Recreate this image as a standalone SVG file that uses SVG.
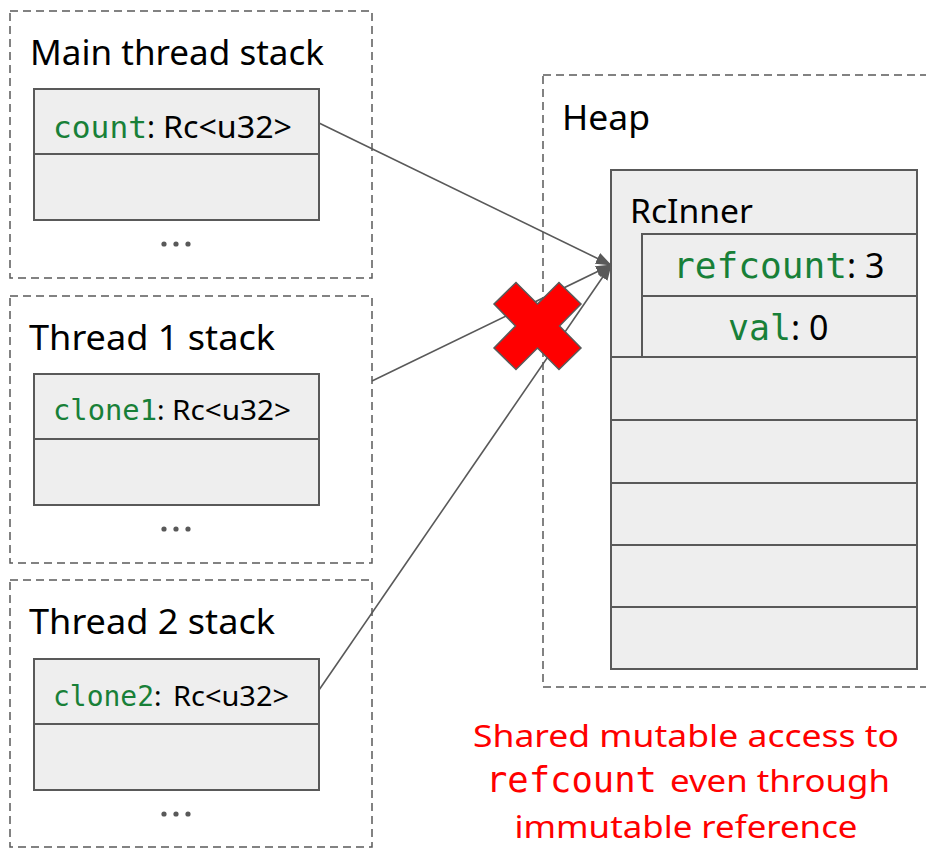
<svg xmlns="http://www.w3.org/2000/svg" width="926" height="848" viewBox="0 0 926 848">
  <style>
    .frame { fill: none; stroke: #595959; stroke-width: 1.5; stroke-dasharray: 8 5; }
    .cell { fill: #eeeeee; stroke: #595959; stroke-width: 2; }
    .title { font-family: "Noto Sans", "Open Sans", sans-serif; fill: #000000; }
    .sans { font-family: "Noto Sans", "Open Sans", sans-serif; fill: #000000; }
    .mono { font-family: "DejaVu Sans Mono", "Liberation Mono", monospace; fill: #188038; }
    .dot { fill: #595959; }
    .link { fill: none; stroke: #595959; stroke-width: 1.6; marker-end: url(#arrow); }
    .warn { font-family: "Noto Sans", "Open Sans", sans-serif; fill: #ff0000; font-size: 31px; }
    .warn-mono { font-family: "DejaVu Sans Mono", "Liberation Mono", monospace; fill: #ff0000; }
  </style>
  <defs>
    <marker id="arrow" markerUnits="userSpaceOnUse" markerWidth="16" markerHeight="12" refX="15" refY="6" orient="auto">
      <path d="M0,0 L16,6 L0,12 Z" fill="#595959"/>
    </marker>
  </defs>

  <rect width="926" height="848" fill="#ffffff"/>

  <!-- Main thread stack -->
  <g id="main-stack">
    <rect class="frame" x="10" y="11" width="362" height="267"/>
    <text class="title" x="30" y="65" font-size="34" textLength="294" lengthAdjust="spacingAndGlyphs">Main thread stack</text>
    <rect class="cell" x="34" y="89" width="285" height="65"/>
    <rect class="cell" x="34" y="154" width="285" height="66"/>
    <text x="53" y="138"><tspan class="mono" font-size="30" textLength="94" lengthAdjust="spacingAndGlyphs">count</tspan><tspan class="sans" font-size="30">: </tspan><tspan class="sans" font-size="30" x="163" textLength="129" lengthAdjust="spacingAndGlyphs">Rc&lt;u32&gt;</tspan></text>
    <circle class="dot" cx="164" cy="244" r="2.6"/>
    <circle class="dot" cx="176" cy="244" r="2.6"/>
    <circle class="dot" cx="188" cy="244" r="2.6"/>
  </g>

  <!-- Thread 1 stack -->
  <g id="thread1-stack">
    <rect class="frame" x="10" y="296" width="362" height="267"/>
    <text class="title" x="29" y="350" font-size="34" textLength="246" lengthAdjust="spacingAndGlyphs">Thread 1 stack</text>
    <rect class="cell" x="34" y="374" width="285" height="65"/>
    <rect class="cell" x="34" y="439" width="285" height="66"/>
    <text x="53" y="420"><tspan class="mono" font-size="28" textLength="104" lengthAdjust="spacingAndGlyphs">clone1</tspan><tspan class="sans" font-size="28">: </tspan><tspan class="sans" font-size="28" x="172" textLength="119" lengthAdjust="spacingAndGlyphs">Rc&lt;u32&gt;</tspan></text>
    <circle class="dot" cx="164" cy="529" r="2.6"/>
    <circle class="dot" cx="176" cy="529" r="2.6"/>
    <circle class="dot" cx="188" cy="529" r="2.6"/>
  </g>

  <!-- Thread 2 stack -->
  <g id="thread2-stack">
    <rect class="frame" x="10" y="580" width="362" height="267"/>
    <text class="title" x="29" y="634" font-size="34" textLength="246" lengthAdjust="spacingAndGlyphs">Thread 2 stack</text>
    <rect class="cell" x="34" y="659" width="285" height="65"/>
    <rect class="cell" x="34" y="724" width="285" height="66"/>
    <text x="53" y="706"><tspan class="mono" font-size="28" textLength="101" lengthAdjust="spacingAndGlyphs">clone2</tspan><tspan class="sans" font-size="28">: </tspan><tspan class="sans" font-size="28" x="173" textLength="116" lengthAdjust="spacingAndGlyphs">Rc&lt;u32&gt;</tspan></text>
    <circle class="dot" cx="164" cy="814" r="2.6"/>
    <circle class="dot" cx="176" cy="814" r="2.6"/>
    <circle class="dot" cx="188" cy="814" r="2.6"/>
  </g>

  <!-- Heap with the RcInner allocation -->
  <g id="heap">
    <rect class="frame" x="543" y="75" width="400" height="612"/>
    <text class="title" x="562" y="130" font-size="34" textLength="88" lengthAdjust="spacingAndGlyphs">Heap</text>
  </g>

  <g id="rcinner">
    <rect class="cell" x="611" y="170" width="306" height="187"/>
    <text class="sans" x="630" y="223" font-size="33" textLength="123" lengthAdjust="spacingAndGlyphs">RcInner</text>
    <rect class="cell" x="642" y="234" width="275" height="62"/>
    <rect class="cell" x="642" y="296" width="275" height="61"/>
    <text x="673" y="278"><tspan class="mono" font-size="36" textLength="174" lengthAdjust="spacingAndGlyphs">refcount</tspan><tspan class="sans" font-size="34">: 3</tspan></text>
    <text x="728" y="340"><tspan class="mono" font-size="35" textLength="63" lengthAdjust="spacingAndGlyphs">val</tspan><tspan class="sans" font-size="34">: 0</tspan></text>
  </g>

  <g id="heap-slots">
    <rect class="cell" x="611" y="357" width="306" height="63"/>
    <rect class="cell" x="611" y="420" width="306" height="63"/>
    <rect class="cell" x="611" y="483" width="306" height="62"/>
    <rect class="cell" x="611" y="545" width="306" height="62"/>
    <rect class="cell" x="611" y="607" width="306" height="62"/>
  </g>

  <!-- Pointers from each stack to the shared allocation -->
  <g id="connectors">
    <line class="link" x1="319" y1="123" x2="611" y2="265"/>
    <line class="link" x1="372" y1="381" x2="611" y2="265"/>
    <line class="link" x1="319" y1="690" x2="611" y2="265"/>
  </g>

  <!-- Red cross over the thread 1 pointer -->
  <g id="cross">
    <polygon points="537.5,304 559,282.5 581,304 559.5,326 581,348 559,369.5 537.5,348 516,369.5 494,348 515.5,326 494,304 516,282.5" fill="#ff0000" stroke="#595959" stroke-width="1.5" stroke-linejoin="miter"/>
  </g>

  <!-- Caption -->
  <g id="caption">
    <text class="warn" x="686" y="747" text-anchor="middle" textLength="426" lengthAdjust="spacingAndGlyphs">Shared mutable access to</text>
    <text x="486" y="792"><tspan class="warn-mono" font-size="35" textLength="171" lengthAdjust="spacingAndGlyphs">refcount</tspan><tspan class="warn" x="670" textLength="220" lengthAdjust="spacingAndGlyphs">even through</tspan></text>
    <text class="warn" x="686" y="838" text-anchor="middle" textLength="343" lengthAdjust="spacingAndGlyphs">immutable reference</text>
  </g>
</svg>
